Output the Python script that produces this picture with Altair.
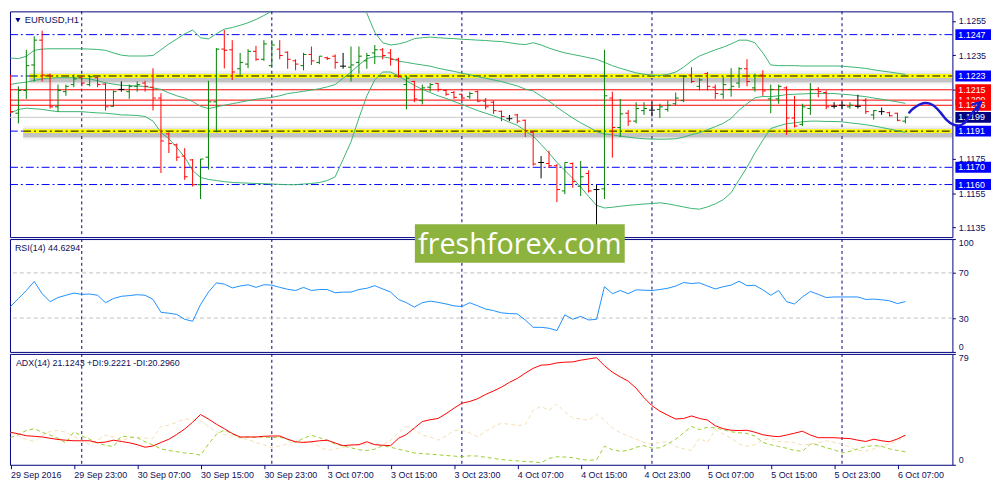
import altair as alt
import pandas as pd

# ---------------- texts ----------------
symbol_title = "EURUSD,H1"
rsi_title = "RSI(14) 44.6294"
adx_title = "ADX(14) 21.1243 +DI:9.2221 -DI:20.2960"
watermark = "freshforex.com"

x_labels = ["29 Sep 2016", "29 Sep 23:00", "30 Sep 07:00", "30 Sep 15:00", "30 Sep 23:00",
            "3 Oct 07:00", "3 Oct 15:00", "3 Oct 23:00", "4 Oct 07:00", "4 Oct 15:00",
            "4 Oct 23:00", "5 Oct 07:00", "5 Oct 15:00", "5 Oct 23:00", "6 Oct 07:00"]
x_label_idx = [0, 8, 16, 24, 32, 40, 48, 56, 64, 72, 80, 88, 96, 104, 112]
day_grid_idx = [9, 33, 57, 81, 105]
price_ticks = [1.1135, 1.1155, 1.1175, 1.1195, 1.1215, 1.1235, 1.1255]
hidden_tick_labels = ["1.1195", "1.1215"]   # covered by the price boxes in the reference

# ---------------- OHLC (H1 bars) ----------------
open_ = [1.12226, 1.12014, 1.12146, 1.12294, 1.12438, 1.12235, 1.12051, 1.12139, 1.12180, 1.12220,
         1.12180, 1.12220, 1.12183, 1.12054, 1.12152, 1.12139, 1.12170, 1.12189, 1.12165, 1.12102,
         1.11894, 1.11831, 1.11765, 1.11743, 1.11599, 1.11759, 1.12080, 1.12386, 1.12382, 1.12272,
         1.12299, 1.12373, 1.12327, 1.12290, 1.12386, 1.12368, 1.12318, 1.12290, 1.12355, 1.12309,
         1.12336, 1.12345, 1.12287, 1.12281, 1.12309, 1.12318, 1.12364, 1.12382, 1.12364, 1.12327,
         1.12180, 1.12198, 1.12087, 1.12165, 1.12187, 1.12146, 1.12134, 1.12124, 1.12110, 1.12139,
         1.12084, 1.12078, 1.12025, 1.11982, 1.12004, 1.11973, 1.11903, 1.11728, 1.11722, 1.11709,
         1.11563, 1.11722, 1.11590, 1.11664, 1.11571, 1.11575, 1.12102, 1.11931, 1.12014, 1.11968,
         1.12029, 1.12032, 1.12036, 1.12036, 1.12069, 1.12087, 1.12235, 1.12170, 1.12244, 1.12165,
         1.12124, 1.12152, 1.12189, 1.12272, 1.12161, 1.12235, 1.12097, 1.12097, 1.12161, 1.11986,
         1.11949, 1.12041, 1.12152, 1.12134, 1.12054, 1.12060, 1.12051, 1.12054, 1.12087, 1.12004,
         1.12023, 1.12017, 1.12014, 1.11968]
high = [1.12235, 1.12170, 1.12382, 1.12460, 1.12493, 1.12244, 1.12180, 1.12180, 1.12239, 1.12235,
        1.12235, 1.12226, 1.12189, 1.12146, 1.12198, 1.12180, 1.12198, 1.12202, 1.12275, 1.12130,
        1.11903, 1.11838, 1.11811, 1.11748, 1.11748, 1.12202, 1.12392, 1.12497, 1.12438, 1.12364,
        1.12386, 1.12405, 1.12438, 1.12438, 1.12438, 1.12373, 1.12327, 1.12364, 1.12401, 1.12345,
        1.12342, 1.12355, 1.12364, 1.12401, 1.12401, 1.12364, 1.12410, 1.12392, 1.12386, 1.12336,
        1.12231, 1.12202, 1.12180, 1.12189, 1.12189, 1.12152, 1.12143, 1.12128, 1.12139, 1.12146,
        1.12102, 1.12087, 1.12029, 1.12004, 1.12010, 1.11977, 1.11912, 1.11765, 1.11796, 1.11719,
        1.11728, 1.11728, 1.11737, 1.11682, 1.11599, 1.12382, 1.12139, 1.12097, 1.12032, 1.12078,
        1.12078, 1.12078, 1.12069, 1.12087, 1.12134, 1.12235, 1.12281, 1.12217, 1.12253, 1.12180,
        1.12226, 1.12275, 1.12281, 1.12327, 1.12244, 1.12263, 1.12180, 1.12180, 1.12170, 1.12115,
        1.12069, 1.12189, 1.12165, 1.12146, 1.12078, 1.12078, 1.12078, 1.12121, 1.12102, 1.12032,
        1.12047, 1.12023, 1.12017, 1.11995]
low = [1.12014, 1.11955, 1.12097, 1.12198, 1.12198, 1.12041, 1.12023, 1.12115, 1.12165, 1.12170,
       1.12170, 1.12165, 1.12029, 1.12051, 1.12139, 1.12097, 1.12139, 1.12139, 1.12030, 1.11667,
       1.11783, 1.11737, 1.11627, 1.11588, 1.11516, 1.11687, 1.11903, 1.12274, 1.12207, 1.12235,
       1.12275, 1.12318, 1.12318, 1.12287, 1.12327, 1.12272, 1.12263, 1.12263, 1.12294, 1.12299,
       1.12323, 1.12272, 1.12272, 1.12198, 1.12244, 1.12272, 1.12299, 1.12327, 1.12290, 1.12220,
       1.12036, 1.12078, 1.12065, 1.12139, 1.12139, 1.12115, 1.12097, 1.12087, 1.12097, 1.12078,
       1.12036, 1.12010, 1.11968, 1.11968, 1.11955, 1.11876, 1.11709, 1.11636, 1.11697, 1.11498,
       1.11544, 1.11581, 1.11534, 1.11553, 1.11350, 1.11516, 1.11756, 1.11876, 1.11940, 1.11955,
       1.12004, 1.11995, 1.11986, 1.12023, 1.12060, 1.12078, 1.12189, 1.12146, 1.12146, 1.12097,
       1.12097, 1.12110, 1.12161, 1.12170, 1.12139, 1.12115, 1.12014, 1.12069, 1.11888, 1.11931,
       1.11940, 1.12004, 1.12106, 1.12036, 1.12041, 1.12041, 1.12041, 1.12041, 1.12010, 1.11977,
       1.12004, 1.11995, 1.11968, 1.11955]
close = [1.12023, 1.12146, 1.12290, 1.12438, 1.12235, 1.12051, 1.12146, 1.12170, 1.12213, 1.12189,
         1.12226, 1.12180, 1.12051, 1.12139, 1.12152, 1.12170, 1.12180, 1.12170, 1.12102, 1.11853,
         1.11838, 1.11759, 1.11645, 1.11599, 1.11748, 1.12080, 1.12386, 1.12379, 1.12253, 1.12309,
         1.12373, 1.12327, 1.12416, 1.12410, 1.12349, 1.12327, 1.12299, 1.12355, 1.12318, 1.12345,
         1.12331, 1.12309, 1.12287, 1.12294, 1.12345, 1.12349, 1.12382, 1.12349, 1.12327, 1.12226,
         1.12217, 1.12097, 1.12161, 1.12180, 1.12152, 1.12124, 1.12106, 1.12102, 1.12128, 1.12084,
         1.12051, 1.12029, 1.11995, 1.11982, 1.11968, 1.11912, 1.11719, 1.11728, 1.11709, 1.11571,
         1.11728, 1.11617, 1.11645, 1.11563, 1.11571, 1.12115, 1.11931, 1.12010, 1.11968, 1.12041,
         1.12041, 1.12032, 1.12051, 1.12060, 1.12102, 1.12226, 1.12198, 1.12207, 1.12170, 1.12128,
         1.12180, 1.12170, 1.12272, 1.12198, 1.12231, 1.12143, 1.12152, 1.12170, 1.11986, 1.11940,
         1.12051, 1.12152, 1.12139, 1.12051, 1.12054, 1.12060, 1.12060, 1.12054, 1.12023, 1.12029,
         1.12023, 1.11999, 1.11973, 1.11991]

# ---------------- Bollinger bands ----------------
bb_upper = [1.12334, 1.12331, 1.12344, 1.12379, 1.12386, 1.12388, 1.12388, 1.12388, 1.12388, 1.12388,
            1.12386, 1.12384, 1.12379, 1.12364, 1.12351, 1.12346, 1.12346, 1.12346, 1.12349, 1.12382,
            1.12416, 1.12445, 1.12475, 1.12497, 1.12452, 1.12445, 1.12475, 1.12502, 1.12511, 1.12524,
            1.12539, 1.12558, 1.12581, 1.12607, 1.12637, 1.12659, 1.12681, 1.12696, 1.12710, 1.12718,
            1.12714, 1.12705, 1.12687, 1.12668, 1.12640, 1.12594, 1.12484, 1.12423, 1.12410, 1.12416,
            1.12428, 1.12447, 1.12452, 1.12456, 1.12452, 1.12449, 1.12447, 1.12443, 1.12441, 1.12438,
            1.12436, 1.12432, 1.12430, 1.12423, 1.12416, 1.12412, 1.12423, 1.12410, 1.12392, 1.12377,
            1.12364, 1.12355, 1.12346, 1.12336, 1.12327, 1.12309, 1.12290, 1.12275, 1.12261, 1.12248,
            1.12240, 1.12235, 1.12233, 1.12239, 1.12253, 1.12281, 1.12318, 1.12346, 1.12364, 1.12382,
            1.12397, 1.12416, 1.12438, 1.12438, 1.12423, 1.12364, 1.12294, 1.12290, 1.12290, 1.12290,
            1.12288, 1.12288, 1.12288, 1.12288, 1.12288, 1.12287, 1.12283, 1.12279, 1.12274, 1.12266,
            1.12259, 1.12253, 1.12246, 1.12239]
bb_middle = [1.12181, 1.12189, 1.12194, 1.12204, 1.12213, 1.12217, 1.12220, 1.12220, 1.12220, 1.12217,
             1.12213, 1.12202, 1.12191, 1.12183, 1.12176, 1.12174, 1.12172, 1.12169, 1.12161, 1.12152,
             1.12132, 1.12115, 1.12102, 1.12082, 1.12054, 1.12041, 1.12051, 1.12060, 1.12069, 1.12078,
             1.12087, 1.12095, 1.12100, 1.12106, 1.12115, 1.12128, 1.12134, 1.12141, 1.12148, 1.12156,
             1.12167, 1.12180, 1.12217, 1.12253, 1.12294, 1.12331, 1.12342, 1.12342, 1.12333, 1.12316,
             1.12309, 1.12301, 1.12294, 1.12287, 1.12275, 1.12266, 1.12257, 1.12246, 1.12237, 1.12226,
             1.12217, 1.12207, 1.12198, 1.12185, 1.12172, 1.12154, 1.12143, 1.12113, 1.12084, 1.12049,
             1.12017, 1.11986, 1.11958, 1.11934, 1.11907, 1.11894, 1.11888, 1.11881, 1.11875, 1.11870,
             1.11866, 1.11864, 1.11863, 1.11864, 1.11866, 1.11875, 1.11890, 1.11901, 1.11918, 1.11936,
             1.11955, 1.11984, 1.12032, 1.12069, 1.12104, 1.12111, 1.12110, 1.12115, 1.12122, 1.12124,
             1.12126, 1.12128, 1.12128, 1.12128, 1.12128, 1.12124, 1.12121, 1.12115, 1.12110, 1.12102,
             1.12095, 1.12087, 1.12080, 1.12071]
bb_lower = [1.12014, 1.12036, 1.12043, 1.12040, 1.12036, 1.12029, 1.12023, 1.12023, 1.12023, 1.12023,
            1.12019, 1.12016, 1.12014, 1.12010, 1.12004, 1.12003, 1.12001, 1.11995, 1.11968, 1.11903,
            1.11866, 1.11815, 1.11759, 1.11682, 1.11641, 1.11630, 1.11623, 1.11617, 1.11612, 1.11610,
            1.11608, 1.11606, 1.11605, 1.11603, 1.11601, 1.11599, 1.11599, 1.11603, 1.11606, 1.11612,
            1.11623, 1.11645, 1.11746, 1.11848, 1.11986, 1.12115, 1.12207, 1.12253, 1.12253, 1.12231,
            1.12202, 1.12176, 1.12152, 1.12134, 1.12115, 1.12100, 1.12082, 1.12065, 1.12047, 1.12029,
            1.12014, 1.11999, 1.11982, 1.11962, 1.11944, 1.11912, 1.11881, 1.11833, 1.11783, 1.11728,
            1.11682, 1.11636, 1.11586, 1.11531, 1.11479, 1.11464, 1.11468, 1.11474, 1.11479, 1.11483,
            1.11487, 1.11490, 1.11494, 1.11488, 1.11479, 1.11470, 1.11461, 1.11457, 1.11470, 1.11488,
            1.11512, 1.11553, 1.11627, 1.11700, 1.11783, 1.11857, 1.11925, 1.11940, 1.11953, 1.11958,
            1.11964, 1.11968, 1.11968, 1.11966, 1.11966, 1.11964, 1.11958, 1.11953, 1.11947, 1.11940,
            1.11931, 1.11922, 1.11912, 1.11903]

# ---------------- RSI / ADX ----------------
rsi = [40.2, 47.3, 54.4, 62.4, 51.6, 44.5, 48.2, 50.2, 52.1, 51.0,
       51.3, 50.2, 43.6, 47.3, 49.3, 49.9, 50.7, 50.2, 46.5, 35.1,
       34.3, 33.2, 28.9, 27.2, 42.0, 53.0, 61.2, 60.1, 56.7, 58.4,
       59.5, 57.2, 59.5, 59.2, 57.2, 55.5, 54.4, 57.2, 54.4, 55.3,
       55.3, 52.4, 53.0, 53.0, 55.3, 56.4, 58.7, 55.8, 53.0, 46.5,
       43.6, 39.7, 43.6, 45.0, 43.9, 42.5, 40.8, 40.2, 43.6, 40.8,
       38.0, 36.6, 34.6, 34.0, 33.7, 28.3, 21.8, 21.8, 21.0, 18.9,
       32.9, 28.9, 31.5, 28.3, 28.9, 57.8, 51.6, 54.4, 51.6, 55.0,
       54.7, 54.4, 55.3, 56.4, 58.4, 61.5, 60.6, 61.2, 58.4, 55.8,
       57.8, 59.2, 62.7, 58.7, 59.0, 55.0, 50.2, 54.4, 44.5, 42.5,
       48.7, 53.6, 51.0, 48.2, 48.7, 48.7, 48.7, 48.7, 46.5, 46.8,
       46.2, 45.3, 42.8, 44.63]
adx = [23.2, 22.0, 20.7, 20.3, 19.8, 18.9, 18.0, 17.5, 17.1, 17.1,
       17.1, 15.7, 16.2, 17.5, 16.6, 15.7, 14.3, 12.5, 13.4, 15.9,
       18.2, 21.6, 25.5, 30.3, 35.8, 32.6, 28.9, 25.7, 22.3, 19.8,
       19.8, 19.8, 20.3, 20.5, 20.5, 18.2, 16.4, 15.9, 16.4, 17.1,
       17.5, 15.5, 13.6, 14.1, 14.3, 16.4, 14.3, 13.9, 13.6, 18.9,
       21.6, 26.2, 30.8, 32.1, 33.0, 36.4, 40.3, 43.9, 45.1, 47.1,
       50.1, 52.6, 55.3, 58.7, 61.5, 65.3, 68.7, 71.0, 71.3, 72.6,
       73.1, 73.3, 74.5, 75.4, 76.3, 70.6, 66.0, 62.6, 59.6, 54.6,
       47.8, 42.1, 38.2, 35.3, 32.6, 33.0, 34.8, 33.0, 31.9, 27.8,
       25.7, 24.6, 24.4, 24.6, 23.2, 21.4, 20.5, 20.0, 21.2, 22.5,
       23.9, 21.2, 19.3, 19.3, 19.3, 18.9, 18.7, 17.5, 16.6, 18.2,
       17.1, 16.4, 18.4, 21.12]
plus_di = [19.3, 21.6, 24.4, 25.7, 23.2, 21.2, 18.9, 15.5, 23.5, 20.5,
           18.2, 15.5, 13.9, 13.0, 20.5, 19.8, 19.3, 16.4, 14.1, 11.3,
           10.2, 9.3, 8.4, 8.0, 6.8, 14.8, 21.6, 24.8, 22.0, 19.3,
           19.8, 19.5, 19.8, 19.3, 19.8, 18.0, 15.9, 18.9, 21.0, 19.3,
           17.5, 14.8, 13.4, 12.1, 10.7, 10.2, 11.1, 13.6, 12.5, 11.1,
           9.8, 8.4, 8.0, 7.5, 7.1, 6.6, 6.2, 5.7, 6.4, 6.2,
           5.3, 4.6, 3.7, 3.2, 2.8, 2.3, 2.1, 1.4, 4.6, 5.7,
           5.5, 5.0, 3.9, 3.2, 3.5, 13.2, 10.7, 9.6, 10.2, 12.5,
           13.6, 11.8, 12.1, 14.8, 18.2, 22.8, 27.3, 25.0, 26.7, 26.2,
           25.0, 23.5, 22.8, 22.3, 20.5, 15.9, 14.3, 13.0, 11.8, 10.2,
           9.6, 14.8, 14.1, 12.1, 10.7, 8.4, 9.6, 11.3, 13.0, 13.6,
           13.2, 11.3, 10.2, 9.22]
minus_di = [22.8, 20.5, 18.0, 16.6, 20.5, 23.9, 24.4, 23.2, 20.3, 17.5,
            14.3, 17.5, 21.0, 19.8, 17.5, 18.9, 19.8, 18.9, 18.9, 27.3,
            28.2, 30.3, 32.6, 32.1, 31.2, 27.3, 23.5, 21.6, 20.5, 19.1,
            18.0, 15.9, 14.1, 12.1, 13.4, 14.8, 17.1, 16.6, 15.9, 13.0,
            10.2, 11.3, 12.5, 13.4, 14.3, 14.8, 14.6, 14.1, 17.5, 22.8,
            27.3, 25.0, 21.2, 19.8, 17.5, 20.5, 24.4, 24.6, 22.8, 19.8,
            23.9, 27.3, 29.6, 28.9, 28.0, 28.5, 38.7, 41.7, 38.7, 43.3,
            37.6, 33.5, 32.6, 31.7, 36.0, 31.9, 26.2, 22.8, 20.5, 18.2,
            15.9, 14.8, 15.9, 16.6, 13.0, 11.3, 10.2, 18.9, 15.9, 25.0,
            22.0, 18.9, 14.8, 13.2, 14.3, 17.5, 18.9, 16.6, 16.2, 15.9,
            13.9, 14.8, 15.7, 17.1, 15.9, 14.8, 12.5, 10.2, 9.8, 11.3,
            13.6, 14.8, 17.1, 20.30]

# ---------------- drawn objects ----------------
blue_levels = [1.1247, 1.1223, 1.1191, 1.1170, 1.1160]
red_levels = [1.1215, 1.1209, 1.1206]
bid_level = [1.1199]
zone_levels = [1.1223, 1.1191]
zone_start = [2.4, 1.6]
zone_end = [118.9, 118.9]
rsi_levels = [30, 70]

label_vals = [1.1247, 1.1223, 1.1215, 1.1209, 1.1206, 1.1199, 1.1191, 1.1170, 1.1160]
label_texts = ["1.1247", "1.1223", "1.1215", "1.1209", "1.1206", "1.1199", "1.1191", "1.1170", "1.1160"]
label_colors = ["#0000FF", "#0000FF", "#FF0000", "#FF0000", "#FF0000", "#000080", "#0000FF", "#0000FF", "#0000FF"]

curve_i = [113.5, 114.0, 114.84, 115.66, 116.5, 117.34, 118.16, 119.0, 119.84, 120.46]
curve_p = [1.12018, 1.12041, 1.12065, 1.12073, 1.12060, 1.12023, 1.11977, 1.11949, 1.11943, 1.11958]
arrow_i = [120.46, 122.54, 121.5, 122.54, 122.1]
arrow_p = [1.11958, 1.12078, 1.12065, 1.12078, 1.12029]
arrow_part = ["shaft", "shaft", "head", "head", "head"]

# ---------------- styling ----------------
NAVY = "#000080"
TXT = "#10105A"
FONT = "Liberation Sans"
W = 952
H_MAIN, H_RSI, H_ADX = 228, 114, 112

n = len(close)
idx = list(range(n))

x_scale = alt.Scale(domain=[-0.0625, 118.9375], nice=False, zero=False)
y_main_scale = alt.Scale(domain=[1.11295, 1.12605], nice=False, zero=False)
hidden_js = "[" + ",".join("'" + s + "'" for s in hidden_tick_labels) + "]"
y_main_axis = alt.Axis(orient="right", values=price_ticks, format=".4f", tickSize=3,
                       labelPadding=3, title=None, zindex=0,
                       labelExpr="indexof(" + hidden_js + ", datum.label) >= 0 ? '' : datum.label")


def XN(field):
    return alt.X(field, type="quantitative", scale=x_scale, axis=None, title=None)


def YM(field):
    return alt.Y(field, type="quantitative", scale=y_main_scale, axis=y_main_axis, title=None)


bars = pd.DataFrame({"i": idx, "open": open_, "high": high, "low": low, "close": close})
bars["dir"] = ["up" if c > o else ("down" if c < o else "flat") for o, c in zip(open_, close)]
bar_color = alt.Color("dir:N", scale=alt.Scale(domain=["up", "down", "flat"],
                                                range=["#008000", "#FF0000", "#000000"]), legend=None)

bb = pd.DataFrame({"i": idx * 3, "p": bb_upper + bb_middle + bb_lower,
                   "band": ["upper"] * n + ["middle"] * n + ["lower"] * n})
grid_df = pd.DataFrame({"i": day_grid_idx})
blue_df = pd.DataFrame({"p": blue_levels})
red_df = pd.DataFrame({"p": red_levels})
bid_df = pd.DataFrame({"p": bid_level})
zone_df = pd.DataFrame({"p": zone_levels, "x0": zone_start, "x1": zone_end})

grid_main = alt.Chart(grid_df).mark_rule(color=NAVY, strokeDash=[3, 3], strokeWidth=1).encode(x=XN("i"))
blue_l = alt.Chart(blue_df).mark_rule(color="#0000FF", strokeDash=[8, 3, 2, 3], strokeWidth=1).encode(y=YM("p"))
red_l = alt.Chart(red_df).mark_rule(color="#FF0000", strokeWidth=1).encode(y=YM("p"))
bid_l = alt.Chart(bid_df).mark_rule(color="#C8C8C8", strokeWidth=1).encode(y=YM("p"))

zone_layers = []
for sw, op, yo in [(14, 0.05, 1.5), (10, 0.08, 2), (7, 0.12, 2.5)]:
    zone_layers.append(alt.Chart(zone_df).mark_rule(color="#000000", strokeWidth=sw, opacity=op, yOffset=yo)
                       .encode(x=XN("x0"), x2="x1", y=YM("p")))
zone_layers.append(alt.Chart(zone_df).mark_rule(color="#FFFF00", strokeWidth=4)
                   .encode(x=XN("x0"), x2="x1", y=YM("p")))
zone_layers.append(alt.Chart(zone_df).mark_rule(color="#000000", strokeWidth=1, strokeDash=[8, 3, 2, 3])
                   .encode(x=XN("x0"), x2="x1", y=YM("p")))

bb_lines = alt.Chart(bb).mark_line(color="#3CB371", strokeWidth=1, clip=True).encode(
    x=XN("i"), y=YM("p"), detail="band:N")

hl = alt.Chart(bars).mark_rule(strokeWidth=1, clip=True).encode(x=XN("i"), y=YM("low"), y2="high", color=bar_color)
op_t = alt.Chart(bars).mark_rule(strokeWidth=1, clip=True, xOffset=-3, x2Offset=0).encode(
    x=XN("i"), x2="i", y=YM("open"), color=bar_color)
cl_t = alt.Chart(bars).mark_rule(strokeWidth=1, clip=True, xOffset=0, x2Offset=3).encode(
    x=XN("i"), x2="i", y=YM("close"), color=bar_color)

title_df = pd.DataFrame({"t": [symbol_title]})
tri = alt.Chart(title_df).mark_point(shape="triangle-down", filled=True, size=26, color=NAVY, opacity=1).encode(
    x=alt.value(8), y=alt.value(9))
title_main = alt.Chart(title_df).mark_text(align="left", baseline="middle", font=FONT, fontSize=9.5,
                                           color=TXT).encode(x=alt.value(15), y=alt.value(9), text="t:N")

label_layers = []
for val, txt, col in zip(label_vals, label_texts, label_colors):
    d = pd.DataFrame({"p": [val], "t": [txt]})
    label_layers.append(alt.Chart(d).mark_tick(orient="horizontal", thickness=11, size=36, color=col,
                                               opacity=1, clip=False).encode(x=alt.value(973), y=YM("p")))
    label_layers.append(alt.Chart(d).mark_text(align="left", baseline="middle", font=FONT, fontSize=9,
                                               color="white", clip=False).encode(
        x=alt.value(958), y=YM("p"), text="t:N"))

curve_df = pd.DataFrame({"i": curve_i, "p": curve_p, "k": list(range(len(curve_i)))})
arrow_df = pd.DataFrame({"i": arrow_i, "p": arrow_p, "part": arrow_part, "k": list(range(len(arrow_i)))})
curve = alt.Chart(curve_df).mark_line(color="#1A1AD2", strokeWidth=2.5, interpolate="cardinal",
                                      strokeCap="round", clip=False).encode(x=XN("i"), y=YM("p"), order="k:Q")
arrow = alt.Chart(arrow_df).mark_line(color="#1A1AD2", strokeWidth=2.5, strokeCap="round",
                                      strokeJoin="round", clip=False).encode(
    x=XN("i"), y=YM("p"), detail="part:N", order="k:Q")

main = alt.layer(grid_main, blue_l, red_l, bid_l, *zone_layers, bb_lines, hl, op_t, cl_t,
                 tri, title_main, *label_layers, curve, arrow).properties(width=W, height=H_MAIN)

# ---------------- RSI panel ----------------
rsi_scale = alt.Scale(domain=[0, 100], nice=False, zero=False)
rsi_axis = alt.Axis(orient="right", values=[0, 30, 70, 100], tickSize=3, labelPadding=3,
                    labelFlush=True, title=None)


def YR(field):
    return alt.Y(field, type="quantitative", scale=rsi_scale, axis=rsi_axis, title=None)


rsi_df = pd.DataFrame({"i": idx, "v": rsi})
rsi_lv = pd.DataFrame({"v": rsi_levels})
grid_rsi = alt.Chart(grid_df).mark_rule(color=NAVY, strokeDash=[3, 3], strokeWidth=1).encode(x=XN("i"))
rsi_lev = alt.Chart(rsi_lv).mark_rule(color="#C0C0C0", strokeDash=[4, 3], strokeWidth=1).encode(y=YR("v"))
rsi_line = alt.Chart(rsi_df).mark_line(color="#1E90FF", strokeWidth=1).encode(x=XN("i"), y=YR("v"))
rsi_t = alt.Chart(pd.DataFrame({"t": [rsi_title]})).mark_text(
    align="left", baseline="middle", font=FONT, fontSize=9, color=TXT).encode(
    x=alt.value(5), y=alt.value(9), text="t:N")
wm_df = pd.DataFrame({"t": [watermark]})
wm_box = alt.Chart(wm_df).mark_rect(color="#8DB33F", clip=False).encode(
    x=alt.value(409), x2=alt.value(621), y=alt.value(-15), y2=alt.value(24))
wm_txt = alt.Chart(wm_df).mark_text(font="Open Sans", fontSize=29, color="white", align="center",
                                    baseline="alphabetic", clip=False).encode(
    x=alt.value(515), y=alt.value(15), text="t:N")
rsi_panel = alt.layer(grid_rsi, rsi_lev, rsi_line, rsi_t, wm_box, wm_txt).properties(width=W, height=H_RSI)

# ---------------- ADX panel ----------------
label_js = "[" + ",".join("'" + s + "'" for s in x_labels) + "]"
x_axis = alt.Axis(values=x_label_idx, labelExpr=label_js + "[round(datum.value / 8)]", tickSize=4,
                  labelAlign="left", labelBaseline="top", labelPadding=2, labelFlush=False,
                  labelOverlap=False, title=None)


def XA(field):
    return alt.X(field, type="quantitative", scale=x_scale, axis=x_axis, title=None)


adx_scale = alt.Scale(domain=[0, 79], nice=False, zero=False)
adx_axis = alt.Axis(orient="right", values=[0, 79], tickSize=3, labelPadding=3, labelFlush=True, title=None)


def YA(field):
    return alt.Y(field, type="quantitative", scale=adx_scale, axis=adx_axis, title=None)


adx_df = pd.DataFrame({"i": idx, "adx": adx, "pdi": plus_di, "mdi": minus_di})
grid_adx = alt.Chart(grid_df).mark_rule(color=NAVY, strokeDash=[3, 3], strokeWidth=1).encode(x=XA("i"))
mdi_line = alt.Chart(adx_df).mark_line(color="#F5DEB3", strokeWidth=1, strokeDash=[4, 3]).encode(
    x=XA("i"), y=YA("mdi"))
pdi_line = alt.Chart(adx_df).mark_line(color="#9ACD32", strokeWidth=1, strokeDash=[4, 3]).encode(
    x=XA("i"), y=YA("pdi"))
adx_line = alt.Chart(adx_df).mark_line(color="#FF0000", strokeWidth=1).encode(x=XA("i"), y=YA("adx"))
adx_t = alt.Chart(pd.DataFrame({"t": [adx_title]})).mark_text(
    align="left", baseline="middle", font=FONT, fontSize=9, color=TXT).encode(
    x=alt.value(6), y=alt.value(9), text="t:N")
adx_panel = alt.layer(grid_adx, mdi_line, pdi_line, adx_line, adx_t).properties(width=W, height=H_ADX)

chart = alt.vconcat(main, rsi_panel, adx_panel, spacing=2, bounds="flush").properties(
    padding={"left": 0, "top": 0, "right": 0, "bottom": 0}, background="white"
).configure_view(stroke=NAVY, strokeWidth=1).configure_axis(
    labelFont=FONT, labelFontSize=9, labelColor=TXT, tickColor=NAVY, domain=False, grid=False
)

chart.save("out.html", embed_options={"renderer": "svg", "actions": False})
